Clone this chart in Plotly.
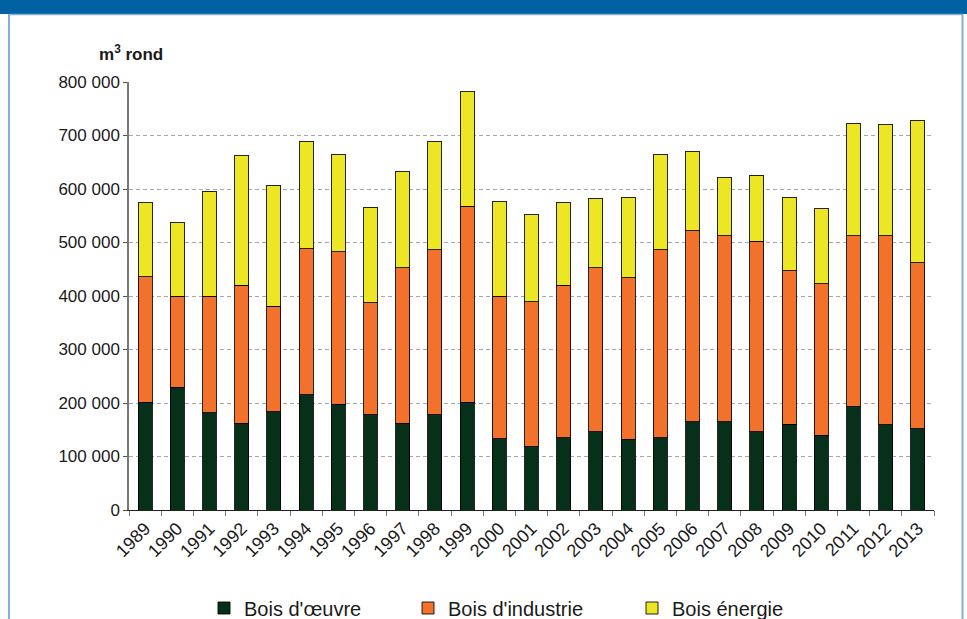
import plotly.graph_objects as go

years = [str(y) for y in range(1989, 2014)]

# segment values (m3 rond)
bois_oeuvre = [201000, 229000, 182000, 162000, 184000, 215000, 198000, 178000, 162000, 178000,
               201000, 133000, 118000, 135000, 146000, 132000, 135000, 165000, 165000, 146000,
               160000, 140000, 193000, 159000, 152000]
bois_industrie = [235000, 171000, 218000, 258000, 197000, 273000, 285000, 209000, 291000, 308000,
                  367000, 267000, 271000, 285000, 307000, 302000, 351000, 357000, 348000, 356000,
                  287000, 283000, 320000, 354000, 310000]
bois_energie = [138000, 138000, 196000, 242000, 226000, 201000, 181000, 179000, 179000, 203000,
                214000, 176000, 163000, 154000, 130000, 151000, 178000, 148000, 108000, 124000,
                138000, 140000, 210000, 207000, 266000]

series_names = ["Bois d'œuvre", "Bois d'industrie", "Bois énergie"]
colors = ["#07301b", "#f2722c", "#ece624"]

W, H = 967, 619
L, R, T, B = 129, 33, 82, 109
pw, ph = W - L - R, H - T - B

def px_x(x):
    return (x - L) / pw

def px_y(y):
    return (H - B - y) / ph

fig = go.Figure()
for i, (name, vals) in enumerate(zip(series_names, [bois_oeuvre, bois_industrie, bois_energie])):
    fig.add_trace(go.Bar(
        x=years, y=vals, name=name,
        marker=dict(color=colors[i], line=dict(color="rgba(0,0,0,0.85)", width=1)),
        legend=f"legend{i+2}",
    ))

legend_common = dict(orientation="h", yanchor="middle", xanchor="left",
                     font=dict(family="Liberation Sans, Arial, sans-serif", size=20, color="#1a1a1a"),
                     bgcolor="rgba(0,0,0,0)", itemwidth=30)

fig.update_layout(
    width=W, height=H,
    margin=dict(l=L, r=R, t=T, b=B, autoexpand=False),
    paper_bgcolor="white", plot_bgcolor="white",
    barmode="stack", bargap=0.57,
    separators=", ",
    font=dict(family="Liberation Sans, Arial, sans-serif", size=17, color="#1a1a1a"),
    legend2=dict(x=px_x(204), y=px_y(608), **legend_common),
    legend3=dict(x=px_x(408), y=px_y(608), **legend_common),
    legend4=dict(x=px_x(632), y=px_y(608), **legend_common),
    xaxis=dict(type="category", tickson="boundaries", ticks="outside", ticklen=5,
               tickcolor="#777", tickangle=-45, showline=True, linecolor="#222",
               linewidth=1, showgrid=False, tickfont=dict(size=18)),
    yaxis=dict(range=[0, 800000], dtick=100000, tickformat=",d", ticks="outside",
               ticklen=4, tickcolor="#555", showline=True, linecolor="#777", linewidth=1.5,
               showgrid=True, gridcolor="#a8a8a8", griddash="4px,3px", gridwidth=1,
               zeroline=False, tickfont=dict(size=17)),
    shapes=[
        dict(type="rect", xref="paper", yref="paper", x0=px_x(-2), x1=px_x(W + 2),
             y0=px_y(14), y1=px_y(-2), fillcolor="#0062a3", line=dict(width=0), layer="above"),
        dict(type="line", xref="paper", yref="paper", x0=px_x(9), x1=px_x(963),
             y0=px_y(14.5), y1=px_y(14.5), line=dict(color="#7fb0d8", width=1.5)),
        dict(type="line", xref="paper", yref="paper", x0=px_x(9), x1=px_x(9),
             y0=px_y(14), y1=px_y(H + 2), line=dict(color="#7fb0d8", width=2)),
        dict(type="line", xref="paper", yref="paper", x0=px_x(962.5), x1=px_x(962.5),
             y0=px_y(14), y1=px_y(H + 2), line=dict(color="#7fb0d8", width=2)),
    ],
    annotations=[
        dict(text="<b>m<sup>3</sup> rond</b>", xref="paper", yref="paper",
             x=px_x(131), y=px_y(53), xanchor="center", yanchor="middle",
             showarrow=False, font=dict(size=17, color="#1a1a1a")),
    ],
)

fig.write_html("out.html", config={"displayModeBar": False},
               post_script="document.body.style.margin='0';document.body.style.overflow='hidden';")
